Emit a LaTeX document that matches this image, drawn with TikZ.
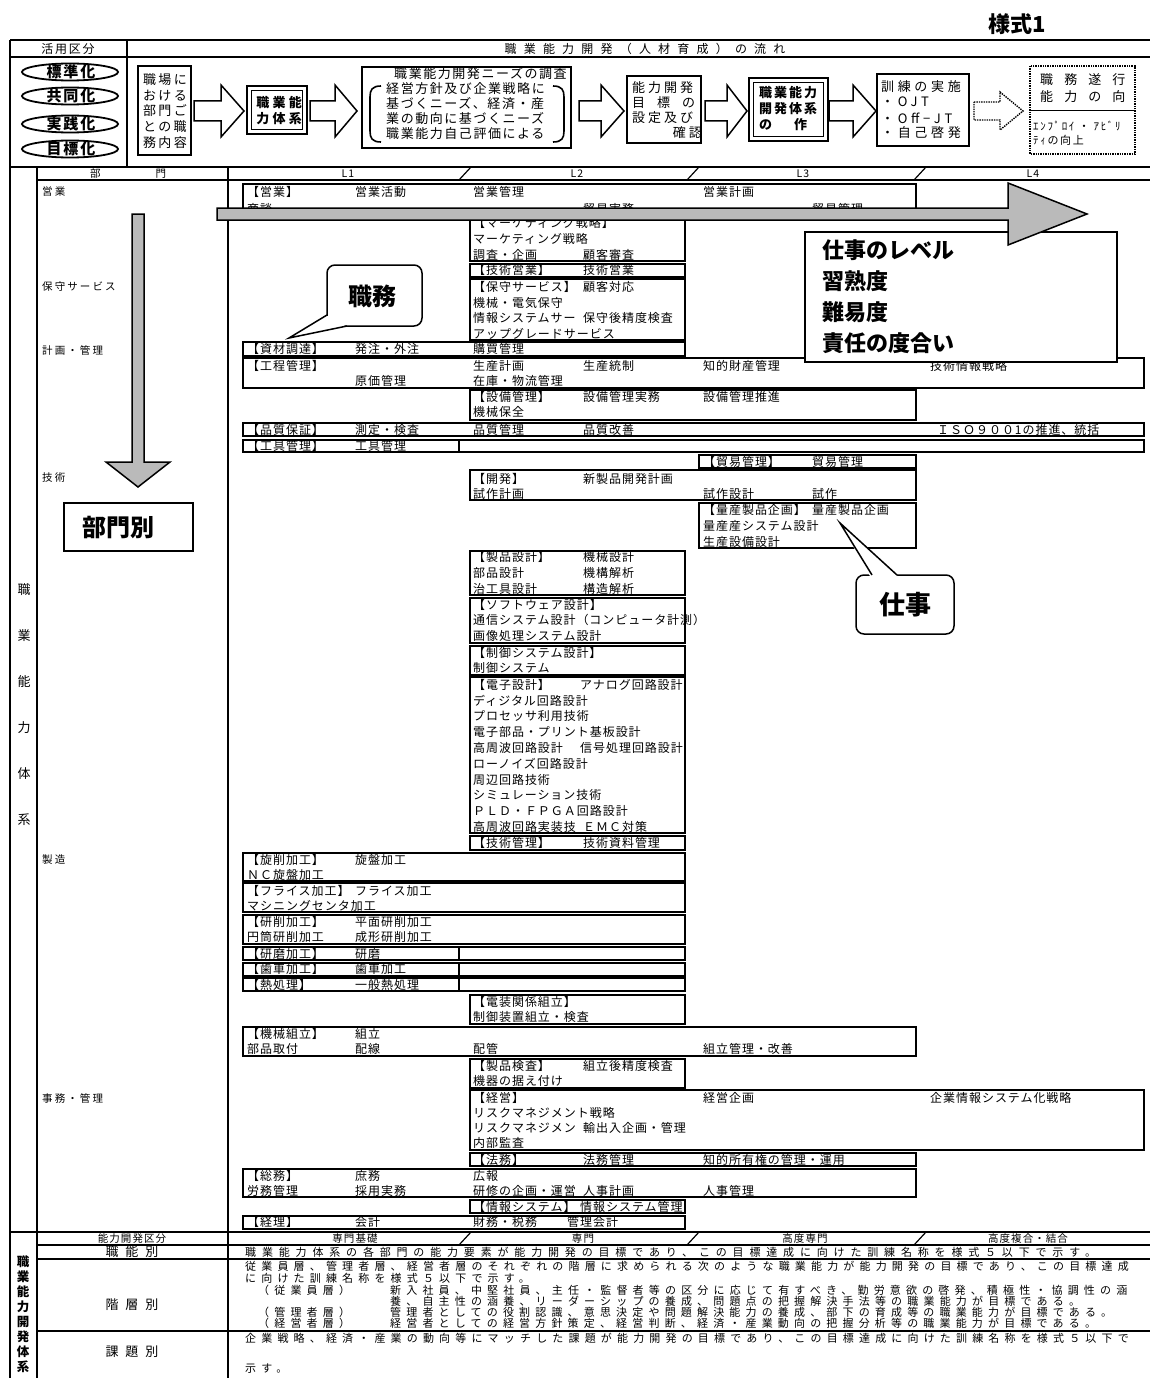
\documentclass[tikz,border=0pt]{standalone}
\usepackage{fontspec}
\setmainfont{Noto Sans CJK JP}
\newfontfamily\jobf[LetterSpace=8]{Noto Sans CJK JP}
\newfontfamily\btmf[LetterSpace=47]{Noto Sans CJK JP}
\newfontfamily\btmw[LetterSpace=53]{Noto Sans CJK JP}
\usetikzlibrary{shapes.geometric}
\newcommand{\hollowarrow}[5][]{%
  \draw[flowarr,#1] (#2,#5-10) -- (#3,#5-10) -- (#3,#5-26) -- (#4,#5) -- (#3,#5+26) -- (#3,#5+10) -- (#2,#5+10) -- cycle;}
\tikzset{
  tl/.style={line width=1.8pt},
  jbox/.style={draw, line width=2.2pt},
  jt/.style={anchor=west, inner sep=0pt, font=\jobf\fontsize{12}{12}\selectfont},
  dl/.style={anchor=west, inner sep=0pt, font=\fontsize{10.5}{11}\selectfont\addfontfeatures{LetterSpace=20}},
  hd/.style={inner sep=0pt, font=\fontsize{10.5}{11}\selectfont\addfontfeatures{LetterSpace=10}},
  bt/.style={anchor=west, inner sep=0pt, font=\btmf\fontsize{11}{11}\selectfont},
  ft/.style={inner sep=0pt, align=left, font=\fontsize{13}{15.8}\selectfont\addfontfeatures{LetterSpace=18}},
  fc/.style={anchor=west, inner sep=0pt, font=\fontsize{13}{15}\selectfont\addfontfeatures{LetterSpace=12}},
  fd/.style={anchor=west, inner sep=0pt, font=\fontsize{13}{15}\selectfont\addfontfeatures{LetterSpace=23}},
  fe/.style={anchor=west, inner sep=0pt, font=\bfseries\fontsize{13}{15}\selectfont\addfontfeatures{LetterSpace=15}},
  ff/.style={anchor=west, inner sep=0pt, font=\fontsize{13}{15}\selectfont\addfontfeatures{LetterSpace=28}},
  fg/.style={anchor=west, inner sep=0pt, font=\fontsize{13}{15}\selectfont\addfontfeatures{LetterSpace=85}},
  fgs/.style={anchor=west, inner sep=0pt, font=\fontsize{11}{12}\selectfont\addfontfeatures{LetterSpace=15}},
  bigt/.style={inner sep=0pt, font=\bfseries\fontsize{22}{31}\selectfont},
  flowarr/.style={draw, line width=1.5pt, fill=white, line join=miter},
  grayarr/.style={draw, line width=1.5pt, fill=black!27},
  ellt/.style={inner sep=0pt, font=\bfseries\fontsize{15}{15}\selectfont\addfontfeatures{LetterSpace=12}},
  vt/.style={inner sep=0pt, font=\fontsize{13}{13}\selectfont},
  vtb/.style={inner sep=0pt, font=\bfseries\fontsize{12.5}{13}\selectfont},
  lab/.style={inner sep=0pt, font=\fontsize{13}{13}\selectfont},
  callout/.style={line width=1.5pt, fill=white, rounded corners=8pt},
}
\begin{document}
\begin{tikzpicture}[x=1pt,y=-1pt]
\useasboundingbox (0,0) rectangle (1150,1378);
\fill[white] (0,0) rectangle (1150,1378);
\begin{scope}
\clip (0,0) rectangle (1150,1378);

% title
\node[bigt] (form) at (1017,24) {様式1};

% ---------- table frame ----------
\draw[tl] (10,40) -- (1150,40);
\draw[tl] (10,57) -- (1150,57);
\draw[tl] (10,167) -- (1150,167);
\draw[tl] (37,180) -- (1150,180);
\draw[tl] (10,40) -- (10,1378);
\draw[tl] (127,40) -- (127,167);
\draw[tl] (37,167) -- (37,1378);
\draw[tl] (228,167) -- (228,1378);
\draw[line width=2.4pt] (10,1232) -- (1150,1232);
\draw[tl] (37,1245) -- (1150,1245);
\draw[tl] (37,1259) -- (1150,1259);
\draw[tl] (37,1331) -- (1150,1331);

% header texts
\node[hd, font=\fontsize{12}{12}\selectfont\addfontfeatures{LetterSpace=15}] (kk) at (68,48.5) {活用区分};
\node[inner sep=0pt, font=\fontsize{12}{12}\selectfont\addfontfeatures{LetterSpace=60}] (ttl) at (645,48.5) {職業能力開発（人材育成）の流れ};

% ellipses
\foreach \t/\yy [count=\i] in {標準化/72, 共同化/96, 実践化/124, 目標化/149} {
  \draw[line width=1.8pt] (70,\yy) ellipse [x radius=48, y radius=8.5];
  \node[ellt] (el\i) at (71,\yy) {\t};
}

% flow box A
\draw[line width=1.3pt] (138,66) rectangle (191,155);
\node[ft] (fa) at (165,111) {職場に\\おける\\部門ご\\との職\\務内容};
\hollowarrow{194}{221}{244}{111}
% flow box B
\draw[line width=2.6pt] (247,86) rectangle (307,134);
\draw[line width=0.8pt] (251.5,90.5) rectangle (302.5,129.5);
\node[inner sep=0pt, align=center, font=\bfseries\fontsize{13}{16}\selectfont\addfontfeatures{LetterSpace=25}] (fb) at (279,111) {職業能\\力体系};
\hollowarrow{310}{335}{357}{111}
% flow box C
\draw[line width=1.3pt] (362,67) rectangle (571,148);
\draw[line width=1.6pt] (381,86) .. controls (372,86) and (370,90) .. (370,97) -- (370,131) .. controls (370,138) and (372,142) .. (381,142);
\draw[line width=1.6pt] (553,86) .. controls (562,86) and (564,90) .. (564,97) -- (564,131) .. controls (564,138) and (562,142) .. (553,142);
\node[fc] (c1) at (394,74) {職業能力開発ニーズの調査};
\node[fc] (c2) at (386,89) {経営方針及び企業戦略に};
\node[fc] (c3) at (386,104) {基づくニーズ、経済・産};
\node[fc] (c4) at (386,119) {業の動向に基づくニーズ};
\node[fc] (c5) at (386,134) {職業能力自己評価による};
\hollowarrow{579}{601}{624}{111}
% flow box D
\draw[line width=1.3pt] (627,76) rectangle (701,143);
\node[fd] (d1) at (632,88) {能力開発};
\node[fd] (d2) at (632,103) {目\hspace{12pt}標\hspace{12pt}の};
\node[fd] (d3) at (632,118) {設定及び};
\node[fd, anchor=east] (d4) at (702,133) {確認};
\hollowarrow{705}{727}{747}{111}
% flow box E
\draw[line width=2.6pt] (749,78) rectangle (828,141);
\draw[line width=0.8pt] (753.5,82.5) rectangle (823.5,136.5);
\node[fe] (e1) at (759,93) {職業能力};
\node[fe] (e2) at (759,109) {開発体系};
\node[fe] (e3) at (759,125) {の\hspace{22pt}作};
\hollowarrow{829}{853}{876}{111}
% flow box F
\draw[line width=1.3pt] (877,74) rectangle (969,146);
\node[ff] (f1) at (881,87) {訓練の実施};
\node[ff] (f2) at (881,102) {・OJT};
\node[ff] (f3) at (881,118) {・Off−JT};
\node[ff] (f4) at (881,133) {・自己啓発};
% dotted arrow
\draw[densely dotted, line width=1.4pt, fill=white] (974,102) -- (1000,102) -- (1000,92) -- (1023,111) -- (1000,130) -- (1000,120) -- (974,120) -- cycle;
% flow box G
\draw[densely dotted, line width=1.4pt] (1030,66) rectangle (1135,154);
\draw[line width=1pt] (1030,111) -- (1135,111);
\node[fg] (g1) at (1040,80) {職務遂行};
\node[fg] (g2) at (1040,97) {能力の向};
\node[fgs] (g3) at (1033,126) {ｴﾝﾌﾟﾛｲ ・ ｱﾋﾞﾘ};
\node[fgs] (g4) at (1033,140) {ﾃｨの向上};

% level header
\node[hd] (hbu) at (128,173.5) {部\hspace{55pt}門};
\node[hd] (lv1h) at (348,173.5) {L1};
\node[hd] (lv2h) at (577,173.5) {L2};
\node[hd] (lv3h) at (803,173.5) {L3};
\node[hd] (lv4h) at (1033,173.5) {L4};
\foreach \xx in {459,687,914} \draw[line width=1.2pt] (\xx,180) -- (\xx+12,167);

% department labels
\foreach \t/\yy [count=\i] in {営業/192, 保守サービス/287, 計画・管理/350, 技術/478, 製造/860, 事務・管理/1098}
  \node[dl] (dp\i) at (42,\yy) {\t};

% vertical text
\foreach \c [count=\i] in {職,業,能,力,体,系}
  \node[vt] (vv\i) at (24,{590+46*(\i-1)}) {\c};

% ---------- job boxes ----------
\foreach \a/\b/\c/\d in {
 243/184/916/216, 470/216/685/261, 470/264/685/277, 470/279/685/340,
 243/342/685/356, 243/358/1144/388, 470/390/916/420, 243/423/1144/436,
 243/440/1144/452, 699/455/916/468, 470/470/916/500, 699/503/916/548,
 470/551/685/595, 470/598/685/643, 470/646/685/675, 470/677/685/833,
 470/836/685/850, 243/853/685/881, 243/883/685/912, 243/915/685/944,
 243/947/685/960, 243/963/685/976, 243/978/685/991, 470/995/685/1024,
 243/1027/916/1056, 470/1059/685/1088, 470/1090/1144/1150, 470/1153/916/1166,
 243/1169/916/1197, 470/1200/685/1213, 243/1216/685/1229}
  \draw[jbox] (\a,\b) rectangle (\c,\d);
\foreach \b/\d in {440/452, 947/960, 963/976, 978/991}
  \draw[jbox] (459,\b) -- (459,\d);

% job texts
\foreach \xx/\yy/\t [count=\i] in {
 247/192/【営業】, 355/192/営業活動, 473/192/営業管理, 703/192/営業計画,
 247/209/商談, 583/209/貿易実務, 812/209/貿易管理,
 473/223/【マーケティング戦略】, 473/239/マーケティング戦略, 473/255/調査・企画, 583/255/顧客審査,
 473/270/【技術営業】, 583/270/技術営業,
 473/287/【保守サービス】, 583/287/顧客対応, 473/303/機械・電気保守, 473/318/情報システムサー, 583/318/保守後精度検査, 473/334/アップグレードサービス,
 247/349/【資材調達】, 355/349/発注・外注, 473/349/購買管理,
 247/366/【工程管理】, 473/366/生産計画, 583/366/生産統制, 703/366/知的財産管理, 930/366/技術情報戦略, 355/381/原価管理, 473/381/在庫・物流管理,
 473/397/【設備管理】, 583/397/設備管理実務, 703/397/設備管理推進, 473/412/機械保全,
 247/430/【品質保証】, 355/430/測定・検査, 473/430/品質管理, 583/430/品質改善, 937/430/ＩＳＯ９００1の推進、統括,
 247/446/【工具管理】, 355/446/工具管理,
 703/462/【貿易管理】, 812/462/貿易管理,
 473/479/【開発】, 583/479/新製品開発計画, 473/494/試作計画, 703/494/試作設計, 812/494/試作,
 703/510/【量産製品企画】, 812/510/量産製品企画, 703/526/量産産システム設計, 703/542/生産設備設計,
 473/557/【製品設計】, 583/557/機械設計, 473/573/部品設計, 583/573/機構解析, 473/589/治工具設計, 583/589/構造解析,
 473/605/【ソフトウェア設計】, 473/620/通信システム設計（コンピュータ計測）, 473/636/画像処理システム設計,
 473/653/【制御システム設計】, 473/668/制御システム,
 473/685/【電子設計】, 580/685/アナログ回路設計, 473/701/ディジタル回路設計, 473/716/プロセッサ利用技術,
 473/732/電子部品・プリント基板設計, 473/748/高周波回路設計, 580/748/信号処理回路設計, 473/764/ローノイズ回路設計,
 473/780/周辺回路技術, 473/795/シミュレーション技術, 473/811/ＰＬＤ・ＦＰＧＡ回路設計, 473/827/高周波回路実装技, 583/827/ＥＭＣ対策,
 473/843/【技術管理】, 583/843/技術資料管理,
 247/860/【旋削加工】, 355/860/旋盤加工, 247/875/ＮＣ旋盤加工,
 247/891/【フライス加工】, 355/891/フライス加工, 247/906/マシニングセンタ加工,
 247/922/【研削加工】, 355/922/平面研削加工, 247/937/円筒研削加工, 355/937/成形研削加工,
 247/954/【研磨加工】, 355/954/研磨,
 247/969/【歯車加工】, 355/969/歯車加工,
 247/985/【熱処理】, 355/985/一般熱処理,
 473/1002/【電装関係組立】, 473/1017/制御装置組立・検査,
 247/1034/【機械組立】, 355/1034/組立, 247/1049/部品取付, 355/1049/配線, 473/1049/配管, 703/1049/組立管理・改善,
 473/1066/【製品検査】, 583/1066/組立後精度検査, 473/1081/機器の据え付け,
 473/1098/【経営】, 703/1098/経営企画, 930/1098/企業情報システム化戦略, 473/1113/リスクマネジメント戦略,
 473/1128/リスクマネジメン, 583/1128/輸出入企画・管理, 473/1143/内部監査,
 473/1160/【法務】, 583/1160/法務管理, 703/1160/知的所有権の管理・運用,
 247/1176/【総務】, 355/1176/庶務, 473/1176/広報, 247/1191/労務管理, 355/1191/採用実務, 473/1191/研修の企画・運営, 583/1191/人事計画, 703/1191/人事管理,
 473/1207/【情報システム】, 580/1207/情報システム管理,
 247/1222/【経理】, 355/1222/会計, 473/1222/財務・税務, 567/1222/管理会計}
  \node[jt] (j\i) at (\xx,\yy) {\t};

% ---------- overlays ----------
\draw[line width=1.5pt, fill=white] (805,232) rectangle (1117,362);
\node[bigt, anchor=west] (lvA) at (822,250) {仕事のレベル};
\node[bigt, anchor=west] (lvB) at (822,281) {習熟度};
\node[bigt, anchor=west] (lvC) at (822,312) {難易度};
\node[bigt, anchor=west] (lvD) at (822,343) {責任の度合い};

\draw[grayarr] (217,208) -- (1008,208) -- (1008,183) -- (1087,214) -- (1008,245) -- (1008,220) -- (217,220) -- cycle;
\draw[grayarr] (132,214) -- (144,214) -- (144,462) -- (170,462) -- (138,487) -- (106,462) -- (132,462) -- cycle;

% callout shigoto
\draw[callout] (856,575) rectangle (954,634);
\fill[white] (870.5,577) -- (840,523) -- (898.5,577) -- cycle;
\draw[line width=1.5pt] (872,575) -- (840,523) -- (897,575);
\node[bigt, font=\bfseries\fontsize{26}{31}\selectfont] (cw) at (905,605) {仕事};

% callout shokumu
\draw[callout] (327,265) rectangle (422,326);
\fill[white] (325.5,315) -- (289,338) -- (348,327.5) -- cycle;
\draw[line width=1.5pt] (327,315) -- (289,338) -- (347,326);
\node[bigt, font=\bfseries\fontsize{24}{31}\selectfont] (sw) at (372,296) {職務};

% bumonbetsu
\draw[line width=1.3pt, fill=white] (64,503) rectangle (193,551);
\node[bigt, font=\bfseries\fontsize{24}{31}\selectfont] (bm) at (118,527) {部門別};

% ---------- bottom section ----------
\node[hd] (hb0) at (132,1238.5) {能力開発区分};
\node[hd] (hb1) at (355,1238.5) {専門基礎};
\node[hd] (hb2) at (583,1238.5) {専門};
\node[hd] (hb3) at (805,1238.5) {高度専門};
\node[hd] (hb4) at (1028,1238.5) {高度複合・結合};
\foreach \xx in {459,687,914} \draw[line width=1.2pt] (\xx,1245) -- (\xx+12,1232);

\node[lab] (k1) at (132,1252) {職\hspace{7pt}能\hspace{7pt}別};
\node[lab] (k2) at (132,1305) {階\hspace{7pt}層\hspace{7pt}別};
\node[lab] (k3) at (132,1352) {課\hspace{7pt}題\hspace{7pt}別};

\foreach \c [count=\i] in {職,業,能,力,開,発,体,系}
  \node[vtb] (vb\i) at (23,{1262+15*(\i-1)}) {\c};

\node[bt, font=\btmw\fontsize{11}{11}\selectfont] (b1) at (245,1252) {職業能力体系の各部門の能力要素が能力開発の目標であり、この目標達成に向けた訓練名称を様式５以下で示す。};
\node[bt] (b2) at (245,1266) {従業員層、管理者層、経営者層のそれぞれの階層に求められる次のような職業能力が能力開発の目標であり、この目標達成};
\node[bt] (b3) at (245,1278) {に向けた訓練名称を様式５以下で示す。};
\node[bt] (b4) at (258,1290) {（従業員層）};
\node[bt] (b5) at (390,1290) {新入社員、中堅社員、主任・監督者等の区分に応じて有すべき、勤労意欲の啓発、積極性・協調性の涵};
\node[bt] (b6) at (390,1301) {養、自主性の涵養、リーダーシップの養成、問題点の把握解決手法等の職業能力が目標である。};
\node[bt] (b7) at (258,1312) {（管理者層）};
\node[bt] (b8) at (390,1312) {管理者としての役割認識、意思決定や問題解決能力の養成、部下の育成等の職業能力が目標である。};
\node[bt] (b9) at (258,1323) {（経営者層）};
\node[bt] (b10) at (390,1323) {経営者としての経営方針策定、経営判断、経済・産業動向の把握分析等の職業能力が目標である。};
\node[bt] (b11) at (245,1338) {企業戦略、経済・産業の動向等にマッチした課題が能力開発の目標であり、この目標達成に向けた訓練名称を様式５以下で};
\node[bt] (b12) at (245,1369) {示す。};
\end{scope}
\end{tikzpicture}
\end{document}
